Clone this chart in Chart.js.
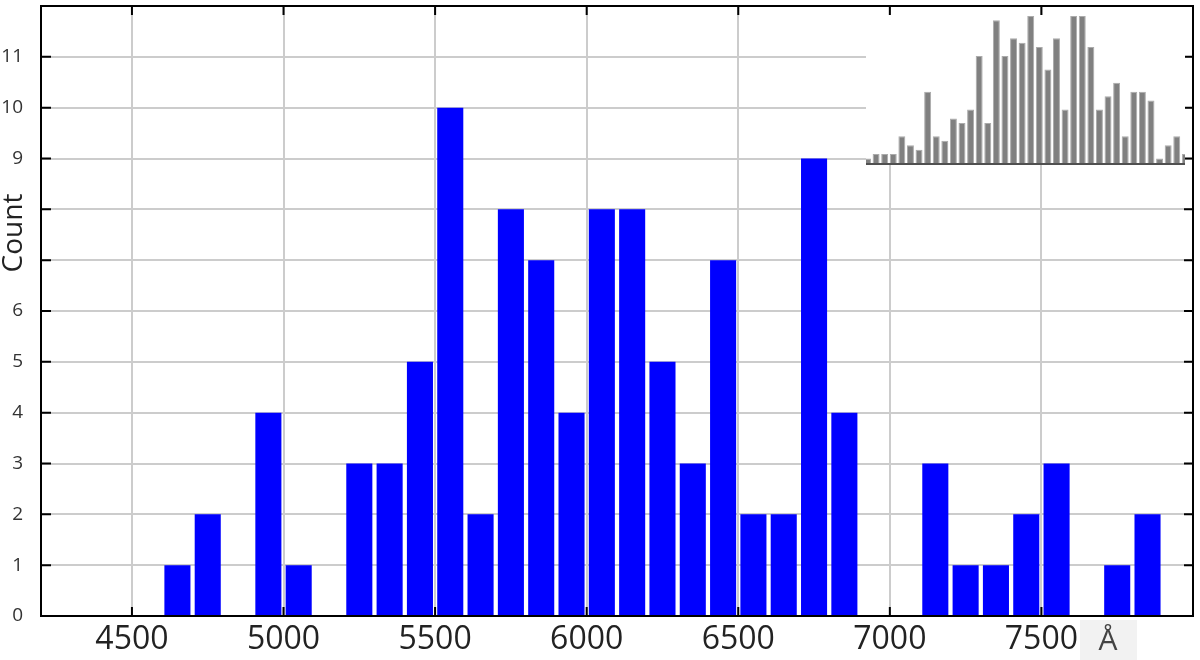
<!DOCTYPE html>
<html>
<head>
<meta charset="utf-8">
<script src="https://cdn.jsdelivr.net/npm/chart.js@4.4.1/dist/chart.umd.min.js"></script>
<style>
  html, body { margin: 0; padding: 0; background: #fff; }
  #wrap { position: relative; width: 1200px; height: 660px; }
  #main { position: absolute; left: 0; top: 0; }
  #inset { position: absolute; left: 866px; top: 15px; background: #fff; }
</style>
</head>
<body>
<div id="wrap">
  <canvas id="main" width="1200" height="660"></canvas>
  <canvas id="inset" width="319" height="150"></canvas>
</div>
<script>
// 100 Å bins, left edge of each bin
const binStarts = [4600, 4700, 4800, 4900, 5000, 5100, 5200, 5300, 5400, 5500,
  5600, 5700, 5800, 5900, 6000, 6100, 6200, 6300, 6400, 6500,
  6600, 6700, 6800, 6900, 7000, 7100, 7200, 7300, 7400, 7500,
  7600, 7700, 7800, 7900];
const counts = [1, 2, 0, 4, 1, 0, 3, 3, 5, 10,
  2, 8, 7, 4, 8, 8, 5, 3, 7, 2,
  2, 9, 4, 0, 0, 3, 1, 1, 2, 3,
  0, 1, 2, 0];
const binWidth = 100;

const xTickValues = [4500, 5000, 5500, 6000, 6500, 7000, 7500];
const yTickValues = [0, 1, 2, 3, 4, 5, 6, 7, 8, 9, 10, 11];
// 7 and 8 sit under the "Count" label in the original
const yTickLabels = ['0', '1', '2', '3', '4', '5', '6', '', '', '9', '10', '11'];

// small grey histogram pasted top right
const insetCounts = [1, 2, 2, 2, 6, 4, 3, 16, 6, 5,
  10, 9, 12, 24, 9, 32, 24, 28, 27, 33,
  26, 21, 28, 12, 33, 33, 26, 12, 15, 18,
  6, 16, 16, 14, 1, 4, 6, 2];

const noPad = s => {
  s.paddingTop = 0; s.paddingBottom = 0;
  s.paddingLeft = 0; s.paddingRight = 0;
};

const frame = {
  id: 'frame',
  afterDraw(chart) {
    const { ctx, chartArea: a, scales } = chart;
    ctx.save();
    ctx.strokeStyle = '#000';
    ctx.lineWidth = 2;
    ctx.beginPath();
    xTickValues.forEach(v => {
      const px = scales.x.getPixelForValue(v);
      ctx.moveTo(px, a.bottom); ctx.lineTo(px, a.bottom - 9);
      ctx.moveTo(px, a.top); ctx.lineTo(px, a.top + 9);
    });
    yTickValues.forEach(v => {
      const py = scales.y.getPixelForValue(v);
      ctx.moveTo(a.left, py); ctx.lineTo(a.left + 10, py);
      ctx.moveTo(a.right, py); ctx.lineTo(a.right - 9, py);
    });
    ctx.stroke();
    ctx.strokeRect(a.left, a.top, a.right - a.left, a.bottom - a.top);

    // y title
    ctx.save();
    ctx.translate(14, 233);
    ctx.rotate(-Math.PI / 2);
    ctx.font = '28px "Open Sans"';
    ctx.fillStyle = '#222';
    ctx.textAlign = 'center';
    ctx.textBaseline = 'middle';
    ctx.fillText('Count', 0, 0);
    ctx.restore();

    // x title on its grey patch
    ctx.fillStyle = '#f2f2f2';
    ctx.fillRect(1080, 620, 57, 40);
    ctx.font = '30px "Open Sans"';
    ctx.fillStyle = '#444';
    ctx.textAlign = 'center';
    ctx.textBaseline = 'middle';
    ctx.fillText('Å', 1108, 641);
    ctx.restore();
  }
};

const mainChart = new Chart(document.getElementById('main'), {
  type: 'bar',
  data: {
    datasets: [{
      data: binStarts.map((s, i) => ({ x: s + binWidth / 2, y: counts[i] })),
      backgroundColor: '#0000ff',
      borderWidth: 0,
      barPercentage: 0.86,
      categoryPercentage: 1
    }]
  },
  options: {
    responsive: false,
    animation: false,
    layout: { padding: { top: 6, right: 7, left: 0, bottom: 0 } },
    plugins: { legend: { display: false }, tooltip: { enabled: false } },
    scales: {
      x: {
        type: 'linear',
        min: 4200,
        max: 8000,
        offset: false,
        afterBuildTicks: s => { s.ticks = xTickValues.map(v => ({ value: v })); },
        afterFit: s => { s.height = 44; noPad(s); },
        grid: { color: '#cccccc', lineWidth: 2, drawTicks: false, offset: false },
        border: { display: false },
        ticks: {
          padding: 5,
          color: '#222',
          font: { family: 'Open Sans', size: 32 },
          maxRotation: 0,
          callback: v => String(v)
        }
      },
      y: {
        min: 0,
        max: 12,
        afterBuildTicks: s => { s.ticks = yTickValues.map(v => ({ value: v })); },
        afterFit: s => { s.width = 41; noPad(s); },
        grid: { color: '#cccccc', lineWidth: 2, drawTicks: false },
        border: { display: false },
        ticks: {
          padding: 18,
          color: '#333',
          font: { family: 'Open Sans', size: 19 },
          callback: (v, i) => yTickLabels[i]
        }
      }
    }
  },
  plugins: [frame]
});

const baseline = {
  id: 'baseline',
  afterDraw(chart) {
    const { ctx, chartArea: a } = chart;
    ctx.save();
    ctx.strokeStyle = '#505050';
    ctx.lineWidth = 2;
    ctx.beginPath();
    ctx.moveTo(a.left, a.bottom + 1);
    ctx.lineTo(a.right, a.bottom + 1);
    ctx.stroke();
    ctx.restore();
  }
};

new Chart(document.getElementById('inset'), {
  type: 'bar',
  data: {
    datasets: [{
      data: insetCounts.map((c, i) => ({ x: i, y: c })),
      backgroundColor: '#808080',
      borderColor: '#ababab',
      borderWidth: 1,
      barPercentage: 0.81,
      categoryPercentage: 1
    }]
  },
  options: {
    responsive: false,
    animation: false,
    layout: { padding: { bottom: 2 } },
    plugins: { legend: { display: false }, tooltip: { enabled: false } },
    scales: {
      x: { type: 'linear', display: false, offset: false, min: -0.175, max: 36.96 },
      y: { display: false, min: 0, max: 33.2 }
    }
  },
  plugins: [baseline]
});
</script>
</body>
</html>
